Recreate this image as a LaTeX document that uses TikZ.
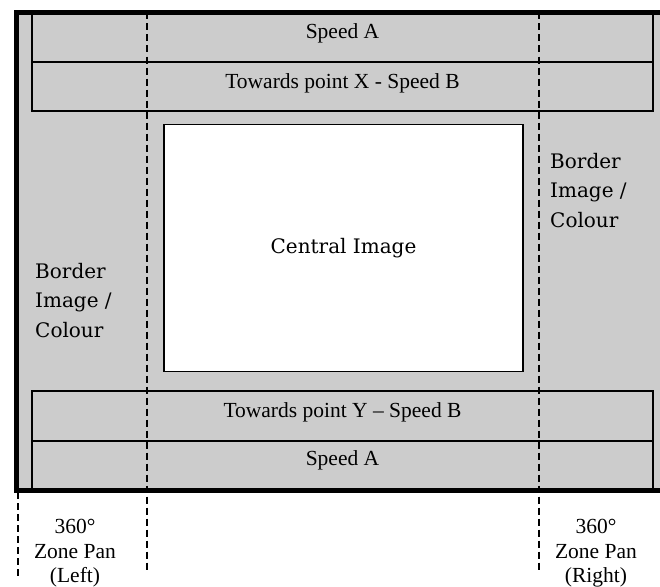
\documentclass[tikz,border=0pt]{standalone}
\usepackage{fontspec}
\setmainfont{Liberation Serif}
\newfontfamily\bookfont{DejaVu Serif}
\usetikzlibrary{positioning}

\definecolor{borderGrey}{gray}{0.8}

\begin{document}
\begin{tikzpicture}[x=1pt,y=-1pt,
    every node/.style={inner sep=0pt},
    band/.style={draw,line width=1.2pt},
    zone/.style={line width=1.4pt,dash pattern=on 7pt off 4pt},
    caption/.style={font=\fontsize{21.5}{24}\selectfont,anchor=base},
    panlabel/.style={font=\fontsize{21.5}{24.5}\selectfont,align=center,anchor=north},
    sidelabel/.style={font=\bookfont\fontsize{20}{29.5}\selectfont,align=left,anchor=north west}]

  \useasboundingbox (0,0) rectangle (660,586);
  \clip (0,0) rectangle (660,586);

  % screen with its grey border
  \draw[fill=borderGrey,line width=5pt] (16,12.5) rectangle (680,490);

  % speed bands
  \draw[band] (32,12.5) rectangle (653,62);
  \draw[band] (32,62) rectangle (653,111);
  \draw[band] (32,391) rectangle (653,441);
  \draw[band] (32,441) rectangle (653,490);

  \node[draw,fill=white,line width=1.5pt,minimum width=359pt,minimum height=247pt,
        font=\bookfont\fontsize{20}{24}\selectfont] (central) at (343.5,248) {Central Image};

  % pan zones
  \draw[zone] (147,12.5) -- (147,573);
  \draw[zone] (539,12.5) -- (539,573);
  \draw[zone] (18,492) -- (18,576);

  \node[caption] (speedTop) at (342.5,39) {Speed A};
  \node[caption] (towardsX) at (342.5,88) {Towards point X - Speed B};
  \node[caption] (towardsY) at (342.5,417) {Towards point Y -- Speed B};
  \node[caption] (speedBottom) at (342.5,465) {Speed A};

  \node[sidelabel] (borderRight) at (550,153) {Border\\Image /\\Colour};
  \node[sidelabel] (borderLeft) at (35,263) {Border\\Image /\\Colour};

  \node[panlabel] (panLeft) at (75,519) {360°\\Zone Pan\\(Left)};
  \node[panlabel] (panRight) at (596,519) {360°\\Zone Pan\\(Right)};
\end{tikzpicture}
\end{document}
